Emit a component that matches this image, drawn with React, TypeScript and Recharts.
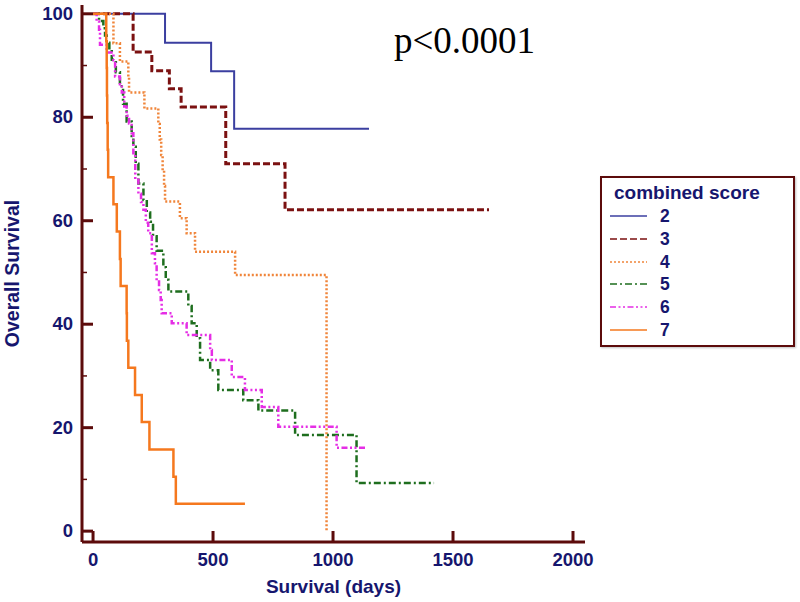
import { LineChart, Line, XAxis, YAxis, Legend } from 'recharts';

// Kaplan-Meier steps: day at which the survival drops, and the new value.
// The last entry repeats the value at the last follow-up day.
const score2Days = [0, 300, 492, 588, 1150];
const score2Surv = [100, 94.4, 88.9, 77.8, 77.8];

const score3Days = [0, 167, 245, 318, 367, 553, 800, 1650];
const score3Surv = [100, 92.6, 89.0, 85.5, 82.0, 71.0, 62.1, 62.1];

const score4Days = [0, 85, 112, 147, 150, 214, 272, 278, 284, 290, 296, 300, 362, 390, 425, 592, 973];
const score4Surv = [100, 94.3, 90.8, 87.8, 84.8, 81.7, 78.7, 75.7, 72.7, 69.7, 66.7, 63.7, 60.5, 57.6, 54.0, 49.5, 0];

const score5Days = [
  0, 25, 43, 50, 57, 68, 78, 95, 112, 125, 140, 161, 168, 178, 189, 210, 224, 238, 250, 265,
  293, 303, 314, 397, 411, 432, 446, 488, 522, 626, 689, 842, 1098, 1421,
];
const score5Surv = [
  100, 98.6, 97.2, 95.8, 94.4, 93.0, 91.1, 88.7, 86.0, 82.6, 79.2, 76.4, 74.3, 71.0, 67.2, 64.0, 61.6, 59.8, 57.0, 54.2,
  51.0, 48.6, 46.3, 43.5, 40.2, 37.3, 33.1, 31.1, 27.3, 25.3, 23.3, 18.6, 9.3, 9.3,
];

const score6Days = [
  0, 15, 25, 29, 57, 85, 92, 112, 120, 130, 140, 150, 161, 168, 176, 189, 200, 210, 220, 230,
  245, 258, 265, 275, 282, 286, 328, 390, 488, 495, 578, 633, 703, 772, 1015, 1143,
];
const score6Surv = [
  100, 98.5, 96.9, 94.0, 92.5, 91.0, 87.9, 86.4, 84.8, 82.1, 80.3, 78.8, 76.9, 72.7, 67.9, 65.2, 63.6, 62.1, 59.6, 57.6,
  53.7, 51.8, 48.5, 46.6, 44.7, 42.1, 40.2, 37.9, 35.0, 33.1, 29.8, 27.3, 24.0, 20.2, 16.1, 16.1,
];

const score7Days = [0, 55, 57, 58, 59, 61, 63, 85, 99, 112, 115, 140, 141, 147, 175, 203, 235, 335, 345, 633];
const score7Surv = [100, 94.7, 89.5, 84.2, 78.9, 73.7, 68.4, 63.2, 57.9, 52.6, 47.4, 42.1, 36.8, 31.6, 26.3, 21.1, 15.8, 10.5, 5.3, 5.3];

const xTicks = [0, 500, 1000, 1500, 2000];
const yTicks = [0, 10, 20, 30, 40, 50, 60, 70, 80, 90, 100];

const AXIS = '#5c0b0b';
const NAVY = '#16166e';
const FONT = '"Liberation Sans", Arial, sans-serif';

const toPoints = (days: number[], surv: number[]) => days.map((d, i) => ({ day: d, surv: surv[i] }));

const series = [
  { name: '2', data: toPoints(score2Days, score2Surv), color: '#3b3fa0', width: 2, dash: undefined },
  { name: '3', data: toPoints(score3Days, score3Surv), color: '#7b1111', width: 3, dash: '7 3' },
  { name: '4', data: toPoints(score4Days, score4Surv), color: '#f0853a', width: 2.5, dash: '2 2' },
  { name: '5', data: toPoints(score5Days, score5Surv), color: '#1e6e1e', width: 2.5, dash: '7 3 2 3' },
  { name: '6', data: toPoints(score6Days, score6Surv), color: '#e52ee5', width: 2.5, dash: '6 2.5 2 2.5 2 2.5' },
  { name: '7', data: toPoints(score7Days, score7Surv), color: '#f5781e', width: 2.5, dash: undefined },
];

function YTick(props: any) {
  const { x, y, payload } = props;
  const major = payload.value % 20 === 0;
  return (
    <g>
      <line x1={x} x2={x + (major ? 11 : 5)} y1={y} y2={y} stroke={AXIS} strokeWidth={major ? 3 : 1.5} />
      {major && (
        <text x={x - 9} y={y} dy={6} textAnchor="end" fill={NAVY} fontSize={18.5} fontWeight="bold" fontFamily={FONT}>
          {payload.value}
        </text>
      )}
    </g>
  );
}

function XTick(props: any) {
  const { x, y, payload } = props;
  return (
    <g>
      <line x1={x} x2={x} y1={y} y2={y - 11} stroke={AXIS} strokeWidth={3} />
      <text x={x} y={y + 24} textAnchor="middle" fill={NAVY} fontSize={18.5} fontWeight="bold" fontFamily={FONT}>
        {payload.value}
      </text>
    </g>
  );
}

function LegendBox() {
  return (
    <div
      style={{
        width: 195,
        height: 171,
        border: `2.5px solid ${AXIS}`,
        boxSizing: 'border-box',
        background: '#fff',
        fontFamily: FONT,
        fontWeight: 'bold',
        color: NAVY,
        position: 'relative',
        boxShadow: '1px 1px 2px rgba(0,0,0,0.25)',
      }}>
      <div style={{ position: 'absolute', left: 12, top: 4, fontSize: 19, lineHeight: '22px', whiteSpace: 'nowrap' }}>
        combined score
      </div>
      {series.map((s, i) => (
        <div
          key={s.name}
          style={{ position: 'absolute', left: 8, top: 27 + i * 22.8, height: 22, display: 'flex', alignItems: 'center' }}>
          <svg width={37} height={4} style={{ display: 'block' }}>
            <line x1={0} x2={37} y1={2} y2={2} stroke={s.color} strokeWidth={1.5} strokeDasharray={s.dash} />
          </svg>
          <span style={{ marginLeft: 13, fontSize: 17.5, lineHeight: '22px' }}>{s.name}</span>
        </div>
      ))}
    </div>
  );
}

export default function App() {
  return (
    <div style={{ position: 'absolute', left: 0, top: 0, width: 800, height: 602, background: '#fff' }}>
      <LineChart width={800} height={602} margin={{ top: 5, right: 215, left: 0, bottom: 0 }}>
        <XAxis
          dataKey="day"
          type="number"
          domain={[-46, 2050]}
          ticks={xTicks}
          interval={0}
          allowDataOverflow
          height={60}
          stroke={AXIS}
          strokeWidth={3}
          tickLine={false}
          tickSize={0}
          tickMargin={0}
          tick={XTick}
          label={{ value: 'Survival (days)', position: 'insideBottom', offset: 9, fill: NAVY, fontSize: 19, fontWeight: 'bold', fontFamily: FONT }}
        />
        <YAxis
          type="number"
          domain={[-2.1, 101.7]}
          ticks={yTicks}
          interval={0}
          allowDataOverflow
          width={82}
          stroke={AXIS}
          strokeWidth={3}
          tickLine={false}
          tickSize={0}
          tickMargin={0}
          tick={YTick}
          label={{
            value: 'Overall Survival',
            angle: -90,
            position: 'insideLeft',
            offset: 12,
            fill: NAVY,
            fontSize: 19.5,
            fontWeight: 'bold',
            fontFamily: FONT,
            style: { textAnchor: 'middle' },
          }}
        />
        {series.map((s) => (
          <Line
            key={s.name}
            data={s.data}
            dataKey="surv"
            name={s.name}
            type="stepAfter"
            stroke={s.color}
            strokeWidth={s.width}
            strokeDasharray={s.dash}
            dot={false}
            activeDot={false}
            isAnimationActive={false}
          />
        ))}
        <Legend
          verticalAlign="middle"
          align="center"
          content={() => <LegendBox />}
          wrapperStyle={{ left: 600, top: 176, width: 195, height: 171 }}
        />
      </LineChart>
      <div
        style={{
          position: 'absolute',
          left: 394,
          top: 22,
          fontFamily: '"Liberation Serif", "Times New Roman", serif',
          fontSize: 37,
          lineHeight: 1,
          color: '#000',
          whiteSpace: 'nowrap',
        }}>
        p&lt;0.0001
      </div>
    </div>
  );
}
